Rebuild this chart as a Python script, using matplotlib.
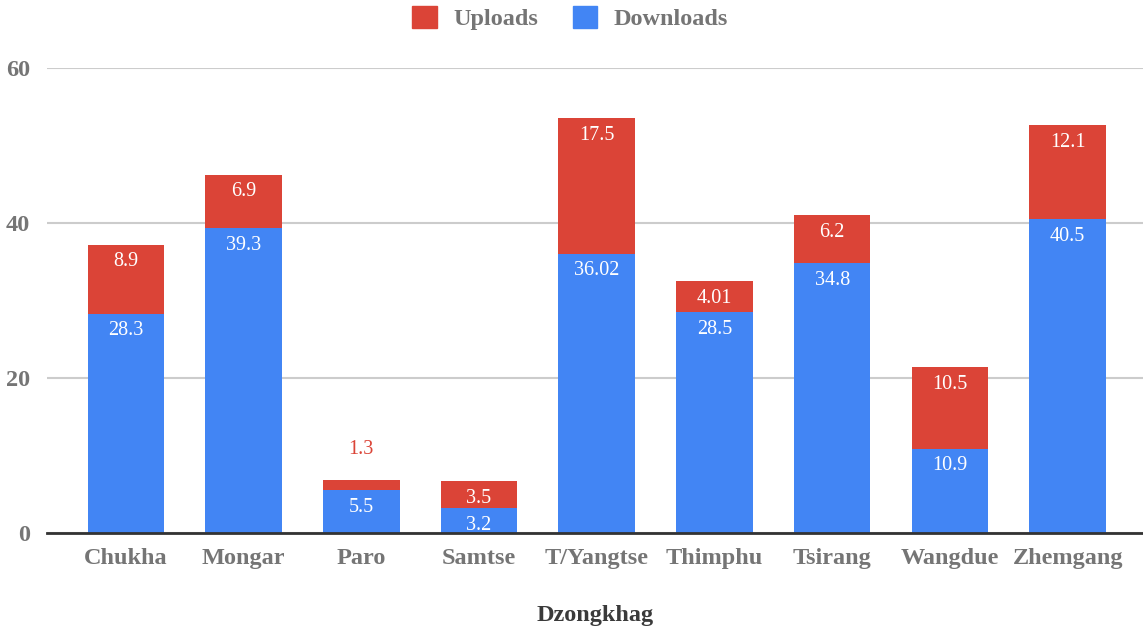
import matplotlib
matplotlib.use("Agg")
import matplotlib.pyplot as plt
from matplotlib.patches import Patch

categories = ["Chukha", "Mongar", "Paro", "Samtse", "T/Yangtse", "Thimphu", "Tsirang", "Wangdue", "Zhemgang"]
downloads = [28.3, 39.3, 5.5, 3.2, 36.02, 28.5, 34.8, 10.9, 40.5]
uploads = [8.9, 6.9, 1.3, 3.5, 17.5, 4.01, 6.2, 10.5, 12.1]
download_labels = ["28.3", "39.3", "5.5", "3.2", "36.02", "28.5", "34.8", "10.9", "40.5"]
upload_labels = ["8.9", "6.9", "1.3", "3.5", "17.5", "4.01", "6.2", "10.5", "12.1"]
yticks = [0, 20, 40, 60]

BLUE = "#4285F4"
RED = "#DB4437"
GRAY = "#757575"
SERIF = "Liberation Serif"

fig = plt.figure(figsize=(11.43, 6.34), dpi=100)
ax = fig.add_axes([0.0411, 0.1593, 0.9589, 0.7334])

x = list(range(len(categories)))
width = 0.65
ax.bar(x, downloads, width=width, color=BLUE, zorder=3)
ax.bar(x, uploads, width=width, bottom=downloads, color=RED, zorder=3)

for i in x:
    ax.annotate(download_labels[i], (i, downloads[i]), xytext=(0, -17),
                textcoords="offset pixels", ha="center", va="center",
                color="white", fontsize=14.5, family=SERIF, zorder=5)
    top = downloads[i] + uploads[i]
    if uploads[i] < 2:
        ax.annotate(upload_labels[i], (i, top), xytext=(0, 31),
                    textcoords="offset pixels", ha="center", va="center",
                    color=RED, fontsize=14.5, family=SERIF, zorder=5)
    else:
        ax.annotate(upload_labels[i], (i, top), xytext=(0, -17),
                    textcoords="offset pixels", ha="center", va="center",
                    color="white", fontsize=14.5, family=SERIF, zorder=5)

ax.set_xlim(-0.67, 8.64)
ax.set_ylim(0, 60)
ax.set_yticks(yticks)
ax.set_yticklabels([str(v) for v in yticks])
ax.set_xticks(x)
ax.set_xticklabels(categories)
for lbl in ax.get_xticklabels() + ax.get_yticklabels():
    lbl.set_family(SERIF)
    lbl.set_fontweight("bold")
    lbl.set_fontsize(17.5)
    lbl.set_color(GRAY)
ax.tick_params(axis="both", length=0)
ax.tick_params(axis="x", pad=11)
ax.tick_params(axis="y", pad=12)

ax.grid(axis="y", color="#CCCCCC", linewidth=1.5, zorder=0)
for s in ["top", "right", "left"]:
    ax.spines[s].set_visible(False)
ax.spines["bottom"].set_color("#333333")
ax.spines["bottom"].set_linewidth(2)
ax.spines["bottom"].set_zorder(4)

ax.set_xlabel("Dzongkhag", family=SERIF, fontweight="bold", fontsize=17.5,
              color="#3a3a3a", labelpad=26)

handles = [Patch(facecolor=RED, edgecolor=RED), Patch(facecolor=BLUE, edgecolor=BLUE)]
leg = fig.legend(handles, ["Uploads", "Downloads"], loc="center", bbox_to_anchor=(0.499, 0.971),
                 ncol=2, frameon=False, handlelength=1.0, handleheight=1.0,
                 handletextpad=0.7, columnspacing=1.4,
                 prop={"family": SERIF, "weight": "bold", "size": 17.5})
for t in leg.get_texts():
    t.set_color(GRAY)

fig.savefig("out.png", dpi=100)
